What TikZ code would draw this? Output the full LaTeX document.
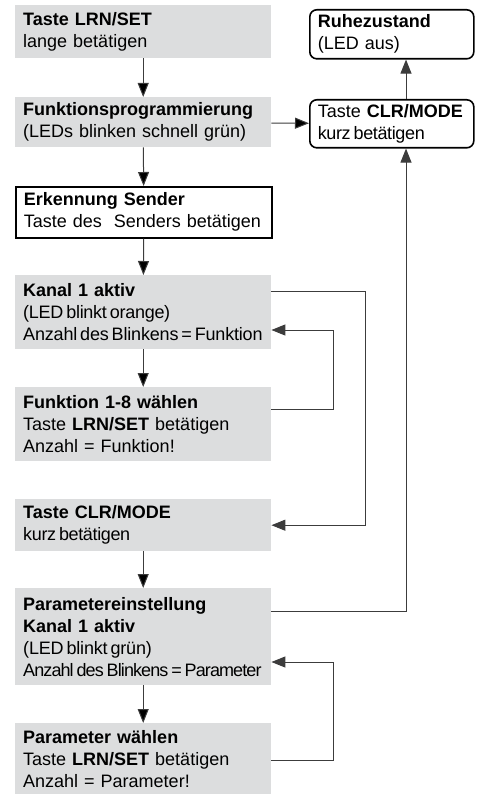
\documentclass[tikz,border=0pt]{standalone}
\usepackage{fontspec}
\setmainfont{Liberation Sans}
\usepackage{tikz}
\usetikzlibrary{calc, arrows.meta}

\definecolor{boxgrau}{RGB}{220,221,222}
\definecolor{linie}{RGB}{60,60,60}

\hyphenpenalty=10000
\newcommand{\eng}[2]{\mbox{\addfontfeatures{LetterSpace=#1}\spaceskip=0.16em\relax #2}}

\tikzset{
  graubox/.style={fill=boxgrau, anchor=north west, text width=240pt, inner xsep=8pt, inner ysep=0pt, minimum width=256pt, align=left},
  rahmenbox/.style={graubox, fill=white, draw=black, line width=1.6pt},
  rundbox/.style={rahmenbox, rounded corners=7pt, text width=148pt, minimum width=164pt},
  pfeil/.style={-{Triangle[length=14pt, width=11pt]}, draw=linie, line width=1pt}
}

\begin{document}
\begin{tikzpicture}[x=1pt, y=-1pt, font=\fontsize{18}{22}\selectfont]
        \useasboundingbox (0, 0) rectangle (489, 794);

        \node[graubox, minimum height=53pt](taste) at (15, 5){\textbf{Taste LRN/SET}\\lange betätigen};
        \node[graubox, minimum height=50pt](funkt) at (15, 97){\textbf{Funktionsprogrammierung}\\(LEDs blinken schnell grün)};
        \node[rahmenbox, minimum height=51pt](erkennung) at (15, 186){\textbf{Erkennung Sender}\\Taste des\ \ Senders betätigen};
        \node[graubox, minimum height=74pt](kanal) at (15, 275){\textbf{Kanal 1 aktiv}\\\eng{-1.5}{(LED blinkt orange)}\\\eng{-1}{Anzahl des Blinkens = Funktion}};
        \node[graubox, minimum height=74pt](fkt) at (15, 387){\textbf{Funktion 1-8 wählen}\\Taste \textbf{LRN/SET} betätigen\\Anzahl = Funktion!};
        \node[graubox, minimum height=52pt](clr) at (15, 499){\textbf{Taste CLR/MODE}\\\eng{-2}{kurz betätigen}};
        \node[graubox, minimum height=97pt](param) at (15, 588){\textbf{Parametereinstellung}\\\textbf{Kanal 1 aktiv}\\\eng{-1}{(LED blinkt grün)}\\\eng{-5}{Anzahl des Blinkens = Parameter}};
        \node[graubox, minimum height=71pt](parwahl) at (15, 723){\textbf{Parameter wählen}\\Taste \textbf{LRN/SET} betätigen\\Anzahl = Parameter!};

        \node[rundbox, minimum height=49pt](ruhe) at (309, 9){\textbf{Ruhezustand}\\(LED aus)};
        \node[rundbox, minimum height=48pt](mode) at (309, 99){Taste \textbf{CLR/MODE}\\\eng{-2}{kurz betätigen}};

        \coordinate (rechts) at (406, 611);
        \coordinate (ecke1) at (365, 291);
        \coordinate (ecke2) at (333, 409);
        \coordinate (ecke3) at (333, 330);
        \coordinate (ecke4) at (333, 760);
        \coordinate (ecke5) at (333, 662);

        \path[pfeil](taste) edge (funkt);
        \path[pfeil](funkt) edge (erkennung);
        \path[pfeil](erkennung) edge (kanal);
        \path[pfeil](kanal) edge (fkt);
        \path[pfeil](clr) edge (param);
        \path[pfeil](param) edge (parwahl);
        \path[pfeil](funkt) edge (mode);

        \draw[pfeil](mode.north -| rechts) -- (ruhe.south -| rechts);
        \draw[pfeil](param.east |- rechts) -- (rechts) -- (mode.south -| rechts);
        \draw[pfeil](kanal.east |- ecke1) -- (ecke1) |- (clr.east);
        \draw[pfeil](fkt.east |- ecke2) -- (ecke2) -- (ecke3) -- (kanal.east |- ecke3);
        \draw[pfeil](parwahl.east |- ecke4) -- (ecke4) -- (ecke5) -- (param.east |- ecke5);

    \end{tikzpicture}
\end{document}
